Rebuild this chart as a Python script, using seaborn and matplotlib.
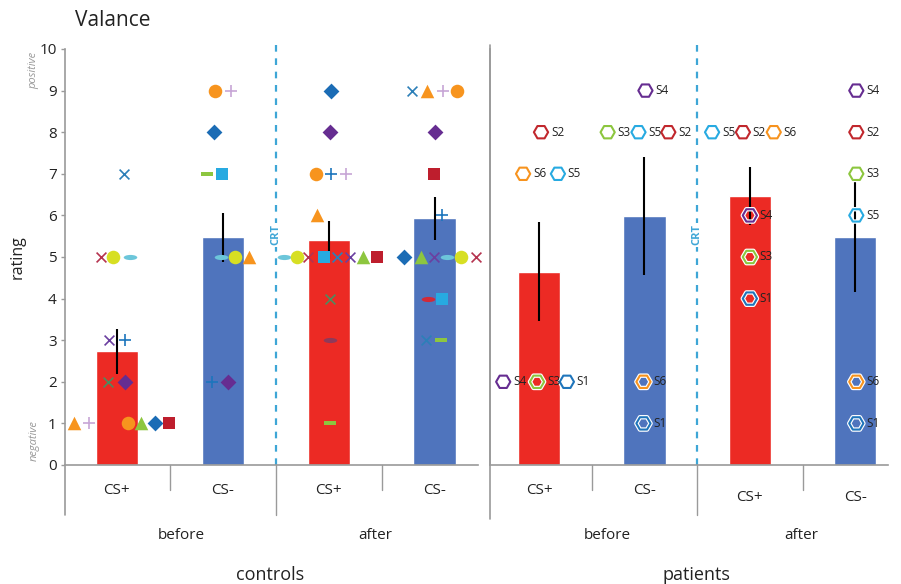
import numpy as np
import pandas as pd
import seaborn as sns
import matplotlib.pyplot as plt
from matplotlib.path import Path
from matplotlib.transforms import Affine2D

sns.set_style('white')
plt.rcParams['font.family'] = ['Open Sans', 'DejaVu Sans']

# --- data -------------------------------------------------------------
conds = ['CS+ before', 'CS- before', 'CS+ after', 'CS- after']
stim_labels = ['CS+', 'CS-', 'CS+', 'CS-']
phase_labels = ['before', 'after']

ctrl_means = [2.73, 5.47, 5.40, 5.93]
ctrl_errs = [0.55, 0.59, 0.46, 0.51]
pat_means = [4.65, 5.98, 6.47, 5.48]
pat_errs = [1.20, 1.42, 0.69, 1.33]

# controls, single ratings per condition (subject = marker key)
ctrl_ratings = [
    [7, 5, 5, 5, 3, 3, 2, 2, 1, 1, 1, 1, 1, 1],
    [9, 9, 8, 7, 7, 5, 5, 5, 2, 2],
    [9, 8, 7, 7, 7, 6, 5, 5, 5, 5, 5, 5, 5, 5, 4, 3, 1],
    [9, 9, 9, 9, 8, 7, 6, 5, 5, 5, 5, 5, 5, 4, 4, 3, 3],
]
ctrl_subjects = [
    ['x_blue', 'x_red', 'o_yellow', 'e_cyan', 'x_purple', 'p_blue', 'x_green', 'D_purple',
     't_orange', 'p_lav', 'o_orange', 't_green', 'D_blue', 's_red'],
    ['o_orange', 'p_lav', 'D_blue', 'd_green', 's_lblue', 'e_cyan', 'o_yellow', 't_orange',
     'p_blue', 'D_purple'],
    ['D_blue', 'D_purple', 'o_orange', 'p_blue', 'p_lav', 't_orange', 'e_cyan', 'o_yellow',
     'x_red', 's_lblue', 'x_blue', 'x_purple', 't_green', 's_red', 'x_green', 'e_dred', 'd_green'],
    ['x_blue', 't_orange', 'p_lav', 'o_orange', 'D_purple', 's_red', 'p_blue', 'D_blue',
     't_green', 'x_purple', 'e_cyan', 'o_yellow', 'x_red', 'e_red', 's_lblue', 'x_blue', 'd_green'],
]

# patients, single ratings per condition
pat_ratings = [
    [8, 7, 7, 2, 2, 2],
    [9, 8, 8, 8, 2, 1],
    [8, 8, 8, 6, 5, 4],
    [9, 8, 7, 6, 2, 1],
]
pat_subjects = [
    ['S2', 'S6', 'S5', 'S4', 'S3', 'S1'],
    ['S4', 'S3', 'S5', 'S2', 'S6', 'S1'],
    ['S5', 'S2', 'S6', 'S4', 'S3', 'S1'],
    ['S4', 'S2', 'S3', 'S5', 'S6', 'S1'],
]

# --- layout: horizontal placement of the dots (pixels from bar centre) ---
ctrl_dx = [
    [7, -16, -4, 13, -8, 8, -9, 8, -43, -28, 11, 24, 38, 52],
    [-8, 8, -9, -16, -1, -2, 12, 26, -11, 5],
    [2, 1, -13, 2, 17, -12, -45, -32, -21, -5, 8, 21, 34, 48, 1, 1, 1],
    [-23, -8, 8, 22, 0, -1, 7, -31, -14, -1, 12, 26, 41, -7, 7, -9, 6],
]
pat_dx = [
    [2, -16, 19, -36, -2, 28],
    [1, -37, -6, 24, -1, -1],
    [-38, -7, 24, 0, 0, 0],
    [1, 1, 1, 1, 1, 1],
]
PX = 106.0

# --- styles -------------------------------------------------------------
RED = '#ec2a24'
BLUE = '#4f74bd'
GREY = '#9a9a9a'
CRT_C = '#3ea6d6'
TXT = '#222222'

ellipse = Path.unit_circle().transformed(Affine2D().scale(1, 0.38))
dash = Path([(-1, -0.3), (1, -0.3), (1, 0.3), (-1, 0.3), (-1, -0.3)],
            [Path.MOVETO, Path.LINETO, Path.LINETO, Path.LINETO, Path.CLOSEPOLY])

ctrl_style = {
    'x_blue': ('x', '#2c7fb8', 50), 'x_red': ('x', '#b5334f', 50),
    'x_purple': ('x', '#6b3fa0', 50), 'x_green': ('x', '#4c8c5f', 50),
    'o_yellow': ('o', '#d7df23', 95), 'o_orange': ('o', '#f7941e', 95),
    'e_cyan': (ellipse, '#6cc6da', 95), 'e_dred': (ellipse, '#8e3a5a', 95),
    'e_red': (ellipse, '#d12a38', 95), 'd_green': (dash, '#8dc63f', 75),
    'p_blue': ('+', '#1c75bc', 75), 'p_lav': ('+', '#c7a6d6', 75),
    't_orange': ('^', '#f7941e', 95), 't_green': ('^', '#8dc63f', 95),
    'D_blue': ('D', '#1b6cb5', 65), 'D_purple': ('D', '#662d91', 65),
    's_red': ('s', '#be1e2d', 85), 's_lblue': ('s', '#27aae1', 85),
}
pat_colors = {'S1': '#1f75bb', 'S2': '#c1272d', 'S3': '#8cc63e',
              'S4': '#662d91', 'S5': '#27aae1', 'S6': '#f7931e'}

fig = plt.figure(figsize=(9.01, 5.84), dpi=100)
ax1 = fig.add_axes([65 / 901, 119 / 584, 413 / 901, 416 / 584])
ax2 = fig.add_axes([490 / 901, 119 / 584, 398 / 901, 416 / 584])


def base_panel(ax, means, errs, xlim):
    df = pd.DataFrame({'cond': conds, 'rating': means})
    sns.barplot(data=df, x='cond', y='rating', hue='cond', palette=[RED, BLUE, RED, BLUE],
                width=0.4, saturation=1, legend=False, ax=ax, zorder=2)
    ax.vlines(range(4), np.array(means) - errs, np.array(means) + errs,
              color='black', lw=1.5, zorder=3)
    ax.set_xlim(*xlim)
    ax.set_ylim(0, 10)
    ax.set_xticks([])
    ax.set_xlabel('')
    ax.set_ylabel('')
    for s in ['top', 'right']:
        ax.spines[s].set_visible(False)
    for s in ['left', 'bottom']:
        ax.spines[s].set_color(GREY)
        ax.spines[s].set_linewidth(1.2)
    # CRT marker
    ax.plot([1.5, 1.5], [0, 1.01], transform=ax.get_xaxis_transform(), color=CRT_C,
            lw=1.6, dashes=(3, 3), clip_on=False, zorder=1)
    ax.text(1.5, 5.53, 'CRT', rotation=90, color=CRT_C, fontsize=8, fontweight='bold',
            ha='center', va='center', zorder=5,
            bbox=dict(facecolor='white', edgecolor='none', pad=1))
    # category brackets below axis
    tr = ax.get_xaxis_transform()
    for xv, low in [(0.5, -0.06), (1.5, -0.12), (2.5, -0.06)]:
        ax.plot([xv, xv], [0, low], transform=tr, color=GREY, lw=1, clip_on=False)


base_panel(ax1, ctrl_means, ctrl_errs, (-0.49, 3.41))
base_panel(ax2, pat_means, pat_errs, (-0.465, 3.31))

# controls dots
for i in range(4):
    for r, key, dx in zip(ctrl_ratings[i], ctrl_subjects[i], ctrl_dx[i]):
        m, c, s = ctrl_style[key]
        lw = 1.2 if m in ('x', '+') else 0
        ax1.scatter(i + dx / PX, r, marker=m, s=s, color=c, linewidths=lw, zorder=4,
                    clip_on=False)

# patients hexagons with labels
for i in range(4):
    for r, subj, dx in zip(pat_ratings[i], pat_subjects[i], pat_dx[i]):
        x = i + dx / PX
        ax2.scatter(x, r, marker='H', s=105, facecolor='none', edgecolor='white',
                    linewidths=3.2, zorder=4)
        ax2.scatter(x, r, marker='H', s=105, facecolor='none', edgecolor=pat_colors[subj],
                    linewidths=1.5, zorder=5)
        ax2.text(x + 10 / PX, r, subj, fontsize=8.5, color=TXT, ha='left',
                 va='center', zorder=6)

# y axis
ax1.set_yticks(range(11))
ax1.tick_params(axis='y', left=True, length=3, width=1, color=GREY, labelsize=11,
                pad=3, labelcolor=TXT)
ax2.set_yticks(range(11))
ax2.tick_params(axis='y', left=False, labelleft=False)

# long left lines extending into the label area
ax1.plot([0, 0], [0, -0.12], transform=ax1.transAxes, color=GREY, lw=1.2, clip_on=False)
ax2.plot([0, 0], [-0.13, 1.01], transform=ax2.transAxes, color=GREY, lw=1.2, clip_on=False)

# category labels
phase_x = {id(ax1): [0.61, 2.44], id(ax2): [0.65, 2.49]}
for ax, low_after in [(ax1, False), (ax2, True)]:
    tr = ax.get_xaxis_transform()
    for i, lab in enumerate(stim_labels):
        yy = -0.077 if (low_after and i >= 2) else -0.062
        ax.text(i, yy, lab, transform=tr, ha='center', va='center', fontsize=11,
                color=TXT)
    for xp, lab in zip(phase_x[id(ax)], phase_labels):
        ax.text(xp, -0.17, lab, transform=tr, ha='center', va='center',
                fontsize=11, color=TXT)

ax1.text(1.45, -0.265, 'controls', transform=ax1.get_xaxis_transform(), ha='center',
         va='center', fontsize=13, color=TXT)
ax2.text(1.49, -0.265, 'patients', transform=ax2.get_xaxis_transform(), ha='center',
         va='center', fontsize=13, color=TXT)

# title, axis label, polarity words
fig.text(75 / 901, 1 - 20 / 584, 'Valance', fontsize=15, ha='left', va='center', color=TXT)
fig.text(18 / 901, 1 - 257 / 584, 'rating', fontsize=11.5, rotation=90, ha='center',
         va='center', color=TXT)
fig.text(34 / 901, 1 - 70 / 584, 'positive', fontsize=8, style='italic', rotation=90,
         ha='center', va='center', color='#999999')
fig.text(34 / 901, 1 - 441 / 584, 'negative', fontsize=8, style='italic', rotation=90,
         ha='center', va='center', color='#999999')

fig.savefig('out.png', dpi=100)
